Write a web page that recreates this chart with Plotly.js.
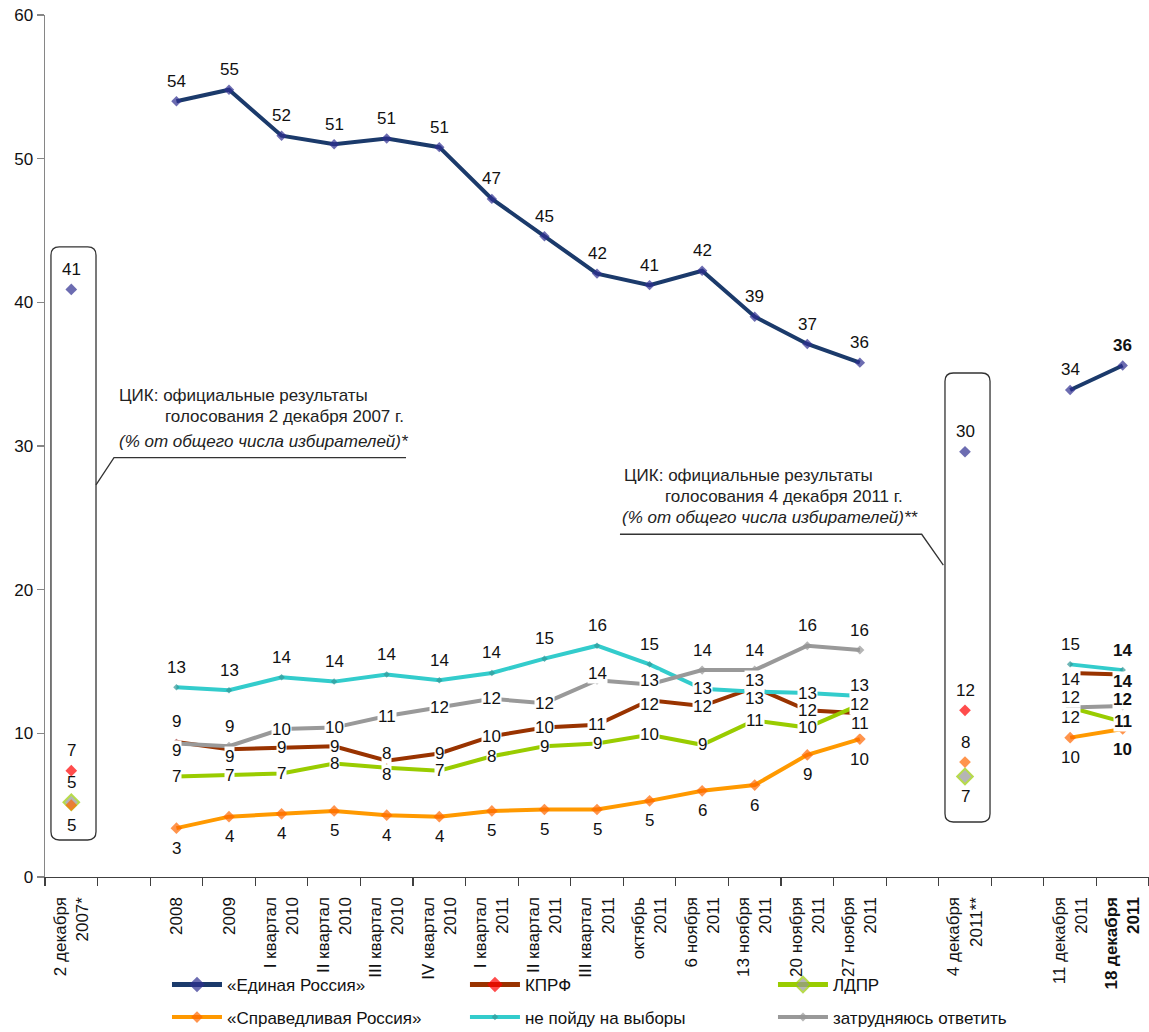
<!DOCTYPE html>
<html>
<head>
<meta charset="utf-8">
<script src="https://cdn.plot.ly/plotly-3.0.1.min.js"></script>
<style>
html, body { margin: 0; padding: 0; background: #ffffff; }
#chart { width: 1149px; height: 1032px; }
</style>
</head>
<body>
<div id="chart"></div>
<script>
// ---- data ----
const categories = [
  "2 декабря<br>2007*", "", "2008", "2009",
  "I квартал<br>2010", "II квартал<br>2010", "III квартал<br>2010", "IV квартал<br>2010",
  "I квартал<br>2011", "II квартал<br>2011", "III квартал<br>2011", "октябрь<br>2011",
  "6 ноября<br>2011", "13 ноября<br>2011", "20 ноября<br>2011", "27 ноября<br>2011", "",
  "4 декабря<br>2011**", "", "11 декабря<br>2011", "<b>18 декабря</b><br><b>2011</b>"
];

const seriesNames = ["«Единая Россия»", "КПРФ", "ЛДПР", "«Справедливая Россия»", "не пойду на выборы", "затрудняюсь ответить"];

const edinayaRossiya = [40.9, null, 54.0, 54.8, 51.6, 51.0, 51.4, 50.8, 47.2, 44.6, 42.0, 41.2, 42.2, 39.0, 37.1, 35.8, null, 29.6, null, 33.9, 35.6];
const kprf           = [7.4, null, 9.4, 8.9, 9.0, 9.1, 8.1, 8.6, 9.8, 10.4, 10.6, 12.3, 11.9, 13.2, 11.6, 11.4, null, 11.6, null, 14.2, 14.1];
const ldpr           = [5.2, null, 7.0, 7.1, 7.2, 7.9, 7.6, 7.4, 8.4, 9.1, 9.3, 9.9, 9.2, 10.9, 10.4, 12.0, null, 7.0, null, 11.8, 10.8];
const spravRossiya   = [5.0, null, 3.4, 4.2, 4.4, 4.6, 4.3, 4.2, 4.6, 4.7, 4.7, 5.3, 6.0, 6.4, 8.5, 9.6, null, 8.0, null, 9.7, 10.3];
const nePoidu        = [null, null, 13.2, 13.0, 13.9, 13.6, 14.1, 13.7, 14.2, 15.2, 16.1, 14.8, 13.1, 12.9, 12.8, 12.6, null, null, null, 14.8, 14.4];
const zatrudnyayus   = [null, null, 9.3, 9.1, 10.3, 10.4, 11.2, 11.8, 12.4, 12.1, 13.7, 13.4, 14.4, 14.4, 16.1, 15.8, null, null, null, 11.8, 11.9];

const yTickValues = [0, 10, 20, 30, 40, 50, 60];

// label placement codes: a = above, b = below, c = on point,
// u / d = slightly up / down, U / D = a bit more up / down, v / w = just up / down
const placeER   = ["a",null,"a","a","a","a","a","a","a","a","a","a","a","a","a","a",null,"a",null,"a","a"];
const placeKPRF = ["a",null,"a","d","c","c","u","c","c","c","c","w","c","u","c","D",null,"a",null,"d","d"];
const placeLDPR = ["a",null,"c","c","c","c","d","c","c","c","c","c","c","c","c","c",null,"b",null,"D","c"];
const placeSR   = ["b",null,"b","b","b","b","b","b","b","b","b","b","b","b","b","b",null,"a",null,"b","b"];
const placeNP   = [null,null,"a","a","a","a","a","a","a","a","a","a","c","d","c","U",null,null,null,"a","a"];
const placeZO   = [null,null,"d","a","c","c","c","c","c","c","u","v","a","a","a","a",null,null,null,"U","u"];

// ---- styling ----
const FONT = "Liberation Sans, Arial, sans-serif";
const xIdx = categories.map((_, i) => i);
const labelShift = { a: 20, b: -20, c: 0, u: 7, d: -7, U: 10, D: -10, v: 4, w: -4 };

function isolated(vals, i) {
  return vals[i] !== null &&
    (i === 0 || vals[i - 1] === null) &&
    (i === vals.length - 1 || vals[i + 1] === null);
}
function sizes(vals, onLine, alone) {
  return vals.map((v, i) => isolated(vals, i) ? alone : onLine);
}

// legend slot for each series (one legend per entry, 3 columns x 2 rows)
const legendSlots = [
  { id: "legend",  x: 0.1105, y: -0.1253, constant: true },
  { id: "legend2", x: 0.3804, y: -0.1253, constant: true },
  { id: "legend3", x: 0.6594, y: -0.1253, constant: true },
  { id: "legend4", x: 0.1105, y: -0.1630, constant: false },
  { id: "legend5", x: 0.3804, y: -0.1630, constant: false },
  { id: "legend6", x: 0.6594, y: -0.1630, constant: false }
];

const styles = [
  { line: "#1B3A6B", mk: "#2E2E90", mkLine: "#2E2E90", mkW: 0, on: 8, alone: 9 },
  { line: "#993300", mk: "#FF0000", mkLine: "#FF0000", mkW: 0, on: 5, alone: 9 },
  { line: "#99CC00", mk: "#969696", mkLine: "#99CC00", mkW: 2, on: 4, alone: 12 },
  { line: "#FF9900", mk: "#FF6600", mkLine: "#FF6600", mkW: 0, on: 9, alone: 9 },
  { line: "#33CCCC", mk: "#339999", mkLine: "#339999", mkW: 0, on: 5, alone: 6 },
  { line: "#999999", mk: "#969696", mkLine: "#969696", mkW: 0, on: 7, alone: 7 }
];

const allSeries = [edinayaRossiya, kprf, ldpr, spravRossiya, nePoidu, zatrudnyayus];
const allPlace = [placeER, placeKPRF, placeLDPR, placeSR, placeNP, placeZO];

const traces = allSeries.map((vals, k) => {
  const s = styles[k];
  return {
    type: "scatter",
    mode: "lines+markers",
    name: seriesNames[k],
    x: xIdx,
    y: vals,
    connectgaps: false,
    legend: legendSlots[k].id,
    line: { color: s.line, width: 4 },
    marker: {
      symbol: "diamond",
      color: s.mk,
      size: sizes(vals, s.on, s.alone),
      line: { color: s.mkLine, width: s.mkW }
    },
    hoverinfo: "skip"
  };
});

// data labels (drawn through the axes from the same arrays)
const annotations = [];
allSeries.forEach((vals, k) => {
  vals.forEach((v, i) => {
    if (v === null) return;
    const p = allPlace[k][i] || "a";
    const r = Math.round(v);
    annotations.push({
      x: i, y: v, xref: "x", yref: "y",
      text: i === 20 ? "<b>" + r + "</b>" : String(r),
      showarrow: false,
      yshift: labelShift[p],
      font: { family: FONT, size: 17, color: "#111111" },
      bgcolor: (p === "a" || p === "b") ? "rgba(0,0,0,0)" : "#ffffff",
      borderpad: 0
    });
  });
});

// callout texts (paper coordinates)
function note(x, y, text, italic) {
  return {
    xref: "paper", yref: "paper", x: x, y: y, xanchor: "left", yanchor: "middle",
    text: italic ? "<i>" + text + "</i>" : text, showarrow: false,
    font: { family: FONT, size: 17, color: "#222222" }
  };
}
annotations.push(
  note(0.0652, 0.5584, "ЦИК: официальные результаты"),
  note(0.1066, 0.5340, "голосования 2 декабря 2007 г."),
  note(0.0652, 0.5050, "(% от общего числа избирателей)*", true),
  note(0.5224, 0.4652, "ЦИК: официальные результаты"),
  note(0.5598, 0.4412, "голосования 4 декабря 2011 г."),
  note(0.5208, 0.4165, "(% от общего числа избирателей)**", true)
);

function roundRect(x0, x1, y0, y1, rx, ry) {
  return "M" + (x0 + rx) + "," + y1 +
    " L" + (x1 - rx) + "," + y1 + " Q" + x1 + "," + y1 + " " + x1 + "," + (y1 - ry) +
    " L" + x1 + "," + (y0 + ry) + " Q" + x1 + "," + y0 + " " + (x1 - rx) + "," + y0 +
    " L" + (x0 + rx) + "," + y0 + " Q" + x0 + "," + y0 + " " + x0 + "," + (y0 + ry) +
    " L" + x0 + "," + (y1 - ry) + " Q" + x0 + "," + y1 + " " + (x0 + rx) + "," + y1 + " Z";
}
const boxLine = { color: "#333333", width: 1.3 };
const shapes = [
  { type: "path", xref: "paper", yref: "paper", path: roundRect(0.0054, 0.0462, 0.0429, 0.7309, 0.0075, 0.0095), line: boxLine },
  { type: "path", xref: "paper", yref: "paper", path: roundRect(0.8152, 0.8560, 0.0638, 0.5847, 0.0075, 0.0095), line: boxLine },
  { type: "path", xref: "paper", yref: "paper", path: "M0.3270,0.4864 L0.0625,0.4864 L0.0462,0.4548", line: boxLine },
  { type: "path", xref: "paper", yref: "paper", path: "M0.5208,0.3976 L0.7941,0.3976 L0.8137,0.3619", line: boxLine }
];

const layout = {
  width: 1149, height: 1032,
  margin: { l: 45, r: 0, t: 15, b: 155, autoexpand: false },
  paper_bgcolor: "#ffffff", plot_bgcolor: "#ffffff",
  font: { family: FONT, size: 17, color: "#111111" },
  showlegend: true,
  xaxis: {
    range: [-0.5, 20.5],
    tickmode: "array", tickvals: xIdx, ticktext: categories,
    tickangle: -90,
    ticks: "",
    ticklabelstandoff: 12,
    tickfont: { family: FONT, size: 17, color: "#111111" },
    showgrid: false, zeroline: false,
    showline: true, linecolor: "#404040", linewidth: 1.3,
    minor: { tickmode: "linear", tick0: -0.5, dtick: 1, ticks: "outside", ticklen: 8, tickcolor: "#404040", tickwidth: 1.2, showgrid: false }
  },
  yaxis: {
    range: [0, 60],
    tickmode: "array", tickvals: yTickValues,
    ticks: "outside", ticklen: 7, tickcolor: "#868686", tickwidth: 1.2,
    tickfont: { family: FONT, size: 17, color: "#111111" },
    showgrid: false, zeroline: false,
    showline: true, linecolor: "#868686", linewidth: 1.5
  },
  annotations: annotations,
  shapes: shapes
};

legendSlots.forEach((slot) => {
  layout[slot.id] = {
    orientation: "h", x: slot.x, y: slot.y, xanchor: "left", yanchor: "middle",
    itemwidth: 50, itemsizing: slot.constant ? "constant" : "trace",
    borderwidth: 0,
    font: { family: FONT, size: 17, color: "#111111" }, bgcolor: "rgba(0,0,0,0)"
  };
});

Plotly.newPlot("chart", traces, layout, { displayModeBar: false, staticPlot: true });
</script>
</body>
</html>
